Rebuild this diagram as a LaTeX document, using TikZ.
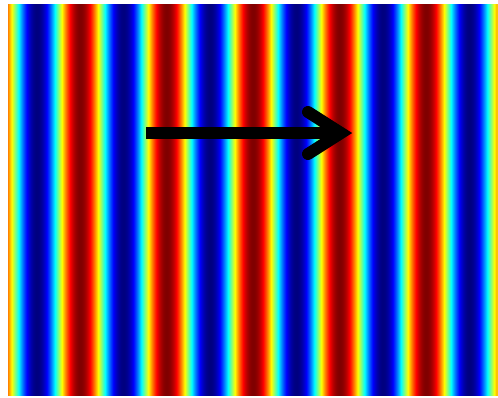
\documentclass[tikz,border=0pt]{standalone}
\begin{document}
\begin{tikzpicture}[
	x=1pt, y=-1pt,
	wavestrip/.style  = {draw=none, fill=stripcolor},
	arrowshaft/.style = {line width=12pt, black, line cap=butt},
	arrowbarb/.style  = {line width=12pt, black, line cap=round, line join=miter}
	]
	
	% ===================== Canvas =====================
	\useasboundingbox[fill=white] (0,0) rectangle (498,397);
	
	% ===================== Plane wave, jet colours =====================
	\foreach \i in {8,...,496}{
		\pgfmathsetmacro{\ph}{mod((\i-80)/86.5,1)}
		\pgfmathsetmacro{\val}{0.5+0.5*cos(360*\ph)}
		\pgfmathsetmacro{\cr}{max(0,min(1,1.5-abs(4*\val-3)))}
		\pgfmathsetmacro{\cg}{max(0,min(1,1.5-abs(4*\val-2)))}
		\pgfmathsetmacro{\cb}{max(0,min(1,1.5-abs(4*\val-1)))}
		\definecolor{stripcolor}{rgb}{\cr,\cg,\cb}
		\fill[wavestrip] (\i,4) rectangle (\i+1.6,396);
	}
	
	% ===================== Direction arrow =====================
	\coordinate (tail)    at (146,133);
	\coordinate (vertex)  at (341,133);
	\coordinate (barbup)  at (308,112);
	\coordinate (barblow) at (308,154);
	
	\draw[arrowshaft] (tail) -- (vertex);
	\draw[arrowbarb] (barbup) -- (vertex) -- (barblow);
	
\end{tikzpicture}
\end{document}
